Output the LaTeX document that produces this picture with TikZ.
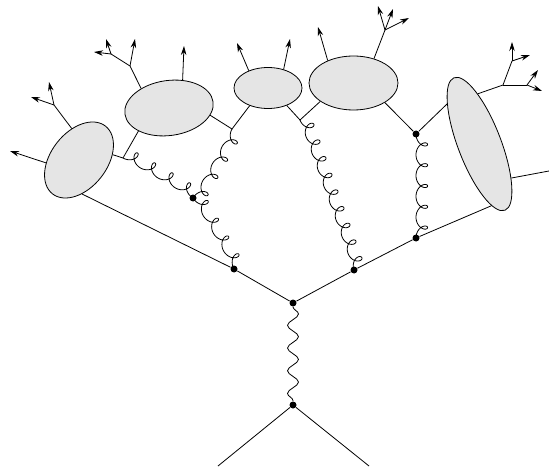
\documentclass[tikz,border=0pt]{standalone}
\usetikzlibrary{arrows.meta,calc,shapes.geometric,decorations.pathmorphing}
\tikzset{
  blob/.style={ellipse,draw,fill=black!10,inner sep=0pt,line width=0.8pt},
  vertex/.style={circle,fill=black,inner sep=0pt,minimum size=7pt},
  photon/.style={decorate,decoration={snake,amplitude=5.5pt,segment length=22.7pt}},
}
\newcommand{\gluon}[3]{\draw let \p1=($(#2.center)-(#1.center)$),\n1={veclen(\x1,\y1)},\n2={atan2(\y1,\x1)} in
  plot[shift={(#1.center)},rotate=\n2,domain=180:180+360*#3,samples=40*#3+1,variable=\t]
  ({((\t-180)/(360*#3)*\n1-5.8*sin(\t))*1pt},{-5.8*(1+cos(\t))*1pt});}
\begin{document}
\begin{tikzpicture}[x=1pt,y=-1pt,>={Stealth[length=9pt,width=5.5pt]},line width=0.8pt]
\useasboundingbox (0,0) rectangle (549,468);

\node[blob,minimum width=86pt,minimum height=56pt,rotate=52] (blobA) at (79,160){};
\node[blob,minimum width=89pt,minimum height=55pt,rotate=8] (blobB) at (169,108){};
\node[blob,minimum width=68pt,minimum height=41pt] (blobC) at (268,88){};
\node[blob,minimum width=89pt,minimum height=54pt] (blobD) at (353.5,83){};
\node[blob,minimum width=142pt,minimum height=43pt,rotate=-69] (blobE) at (479.5,144){};

\node[vertex] (top) at (293,303){};
\node[vertex] (bottom) at (293,405){};
\node[vertex] (left) at (234,269){};
\node[vertex] (right) at (354,270){};
\node[vertex] (rightb) at (416,238){};
\node[vertex] (mid) at (193,198){};
\node[vertex] (jd) at (416,134){};

\coordinate (ja) at (123,158);
\coordinate (jb) at (232,129);
\coordinate (jc) at (300,120);
\coordinate (legl) at (218,466);
\coordinate (legr) at (369,466);
\coordinate (edge) at (549,171);

\draw (bottom) -- (legl);
\draw (bottom) -- (legr);
\draw[photon] (top) -- (bottom);
\draw (top) -- (left) -- (blobA.-137);
\draw (top) -- (right) -- (rightb) -- (blobE.-10);

\gluon{left}{mid}{4}
\gluon{mid}{jb}{4}
\gluon{mid}{ja}{4}
\gluon{right}{jc}{9}
\gluon{rightb}{jd}{5}

\draw (blobA.-43) -- (ja) -- (blobB.209);
\draw (blobB.-18) -- (jb) -- (blobC.224);
\draw (blobC.-43.5) -- (jc) -- (blobD.209);
\draw (blobD.-32) -- (jd) -- (blobE.198.7);
\draw (blobE.22) -- (edge);

\coordinate (a1) at (10,151);
\coordinate (a2) at (54,105);
\coordinate (a3) at (31,97);
\coordinate (a4) at (49,82);
\draw[->] (blobA.133) -- (a1);
\draw (blobA.51) -- (a2);
\draw[->] (a2) -- (a3);
\draw[->] (a2) -- (a4);

\coordinate (b1) at (130,66);
\coordinate (b2) at (135,39);
\coordinate (b3) at (111,54);
\coordinate (b4) at (94,52);
\coordinate (b5) at (106,39);
\coordinate (b6) at (184,46);
\draw (blobB.137) -- (b1) -- (b3);
\draw[->] (b1) -- (b2);
\draw[->] (b3) -- (b4);
\draw[->] (b3) -- (b5);
\draw[->] (blobB.56) -- (b6);

\coordinate (c1) at (237,43);
\coordinate (c2) at (290,39);
\draw[->] (blobC.138) -- (c1);
\draw[->] (blobC.50.5) -- (c2);

\coordinate (d1) at (318,27);
\coordinate (d2) at (385,30);
\coordinate (d3) at (378,6);
\coordinate (d4) at (393,9);
\coordinate (d5) at (409,18);
\draw[->] (blobD.139) -- (d1);
\draw (blobD.50) -- (d2);
\draw[->] (d2) -- (d3);
\draw[->] (d2) -- (d4);
\draw[->] (d2) -- (d5);

\coordinate (e1) at (503,85);
\coordinate (e2) at (512,61);
\coordinate (e3) at (512,42);
\coordinate (e4) at (530,55);
\coordinate (e5) at (527,85);
\coordinate (e6) at (538,70);
\coordinate (e7) at (542,91);
\draw (blobE.161.5) -- (e1) -- (e2);
\draw (e1) -- (e5);
\draw[->] (e2) -- (e3);
\draw[->] (e2) -- (e4);
\draw[->] (e5) -- (e6);
\draw[->] (e5) -- (e7);
\end{tikzpicture}
\end{document}
